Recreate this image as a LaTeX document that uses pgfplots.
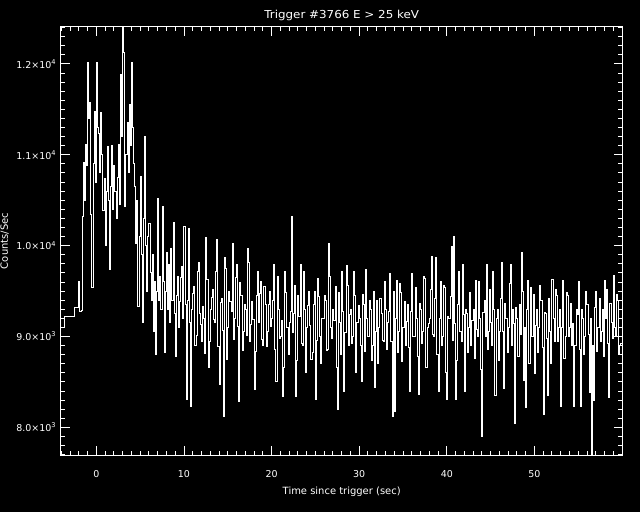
\documentclass[border=0pt]{standalone}
\usepackage{fontspec}
\setmainfont{DejaVu Sans}
\usepackage{graphicx}
\usepackage{pgfplots}
\pgfplotsset{compat=1.18}
\usepackage{pgfplotstable}
\pgfplotstableread{
t c
-4.07 9094
-3.60 9215
-2.55 9318
-2.000 9610
-1.875 9270
-1.750 9290
-1.625 10320
-1.500 10920
-1.375 10500
-1.250 11110
-1.125 10880
-1.000 12010
-0.875 11400
-0.750 11570
-0.625 10340
-0.500 9540
-0.375 10900
-0.250 11480
-0.125 10700
0.000 12010
0.125 11300
0.250 11230
0.375 10800
0.500 11460
0.625 11000
0.750 10390
0.875 10740
1.000 10000
1.125 10600
1.250 11090
1.375 10500
1.500 9740
1.625 10650
1.750 11100
1.875 10400
2.000 10880
2.125 10600
2.250 10300
2.375 10750
2.500 11110
2.625 10450
2.750 11880
2.875 11200
3.000 12450
3.125 12120
3.250 10430
3.375 11000
3.500 11360
3.625 10800
3.750 11550
3.875 11100
4.000 12020
4.125 11300
4.250 10900
4.375 10650
4.500 10020
4.625 10500
4.750 9330
4.875 10100
5.000 10760
5.125 9900
5.250 9150
5.375 10300
5.500 11200
5.625 10000
5.750 9500
5.875 10100
6.000 10240
6.125 9700
6.250 9400
6.375 9900
6.500 9050
6.625 9600
6.750 8800
6.875 9500
7.000 10520
7.125 9400
7.250 9660
7.375 9300
7.500 10430
7.625 9600
7.750 8820
7.875 9500
8.000 9920
8.125 9300
8.250 9790
8.375 9150
8.500 9970
8.625 9400
8.750 10250
8.875 9250
9.000 8780
9.125 9450
9.250 9660
9.375 9100
9.500 9380
9.625 9650
9.750 9770
9.875 9200
10.000 10210
10.125 9350
10.250 8310
10.375 9400
10.500 10190
10.625 9150
10.750 8230
10.875 9300
11.000 9470
11.125 9550
11.250 8900
11.375 9010
11.500 9720
11.625 9810
11.750 9250
11.875 9130
12.000 8950
12.125 9330
12.250 9200
12.375 8810
12.500 10090
12.625 9630
12.750 8660
12.875 8950
13.000 9300
13.125 9430
13.250 9520
13.375 9190
13.500 9150
13.625 9710
13.750 10070
13.875 8890
14.000 8470
14.125 9370
14.250 9420
14.375 9070
14.500 8120
14.625 9870
14.750 9750
14.875 8750
15.000 9100
15.125 9490
15.250 9380
15.375 9270
15.500 10020
15.625 8970
15.750 9200
15.875 9650
16.000 9790
16.125 9110
16.250 8280
16.375 9590
16.500 9450
16.625 8850
16.750 9050
16.875 9350
17.000 9300
17.125 9010
17.250 9970
17.375 9810
17.500 8950
17.625 9130
17.750 9380
17.875 9190
18.000 8420
18.125 8830
18.250 9450
18.375 9710
18.500 9150
18.625 9470
18.750 9600
18.875 8970
19.000 8900
19.125 9550
19.250 9350
19.375 8890
19.500 9050
19.625 9350
19.750 9500
19.875 9110
20.000 9200
20.125 9400
20.250 9790
20.375 8860
20.500 8500
20.625 9660
20.750 9300
20.875 8980
21.000 9000
21.125 9180
21.250 8340
21.375 8660
21.500 9720
21.625 9480
21.750 9100
21.875 8800
22.000 9150
22.125 9280
22.250 10320
22.375 9040
22.500 9250
22.625 9560
22.750 8340
22.875 8740
23.000 9450
23.125 9220
23.250 9790
23.375 8920
23.500 8900
23.625 9720
23.750 9300
23.875 8600
24.000 9100
24.125 9340
24.250 9500
24.375 9120
24.500 8750
24.625 8820
24.750 9350
24.875 9500
25.000 8310
25.125 8960
25.250 9640
25.375 9440
25.500 9000
25.625 8700
25.750 9200
25.875 9200
26.000 9450
26.125 9400
26.250 8850
26.375 8860
26.500 10020
26.625 9660
26.750 9100
26.875 8980
27.000 9300
27.125 9180
27.250 9550
27.375 8660
27.500 8200
27.625 9480
27.750 9150
27.875 8800
28.000 9710
28.125 9280
28.250 8400
28.375 9040
28.500 9780
28.625 9560
28.750 8900
28.875 9240
29.000 9300
29.125 8920
29.250 9000
29.375 9720
29.500 9450
29.625 8600
29.750 9150
29.875 9340
30.000 9200
30.125 8900
30.250 8510
30.375 9460
30.500 9350
30.625 8840
30.750 9740
30.875 9200
31.000 9000
31.125 9400
31.250 9300
31.375 8740
31.500 8900
31.625 9500
31.750 8440
31.875 9060
32.000 9400
32.125 8700
32.250 9100
32.375 9420
32.500 9250
32.625 8960
32.750 8950
32.875 9600
33.000 9300
33.125 8860
33.250 9150
33.375 9280
33.500 9690
33.625 8940
33.750 8120
33.875 9500
34.000 8180
34.125 9200
34.250 9620
34.375 8820
34.500 9050
34.625 9580
34.750 9480
34.875 8720
35.000 9100
35.125 9380
35.250 8900
35.375 9160
35.500 9350
35.625 8880
35.750 8400
35.875 9280
36.000 9690
36.125 9000
36.250 9000
36.375 9540
36.500 9200
36.625 8780
36.750 8360
36.875 9360
37.000 9300
37.125 8920
37.250 9050
37.375 9660
37.500 9640
37.625 8660
37.750 9100
37.875 9140
38.000 9200
38.125 9520
38.250 9880
38.375 9020
38.500 9000
38.625 9420
38.750 9870
38.875 8800
39.000 8390
39.125 9200
39.250 9600
39.375 8900
39.500 9000
39.625 9560
39.750 9540
39.875 8600
40.000 8310
40.125 9220
40.250 9200
40.375 9440
40.500 9990
40.625 8960
40.750 10100
40.875 9140
41.000 8310
41.125 8740
41.250 9350
41.375 9720
41.500 9050
41.625 8940
41.750 9790
41.875 9240
42.000 8400
42.125 9300
42.250 9250
42.375 8820
42.500 9100
42.625 9480
42.750 8900
42.875 9180
43.000 9300
43.125 8760
43.250 9620
43.375 9080
43.500 9000
43.625 9600
43.750 9200
43.875 8640
44.000 7900
44.125 9260
44.250 9400
44.375 9000
44.500 9790
44.625 8860
44.750 9050
44.875 9520
45.000 9150
45.125 8900
45.250 9720
45.375 9300
45.500 8350
45.625 9200
45.750 9300
45.875 8740
46.000 9050
46.125 9420
46.250 9810
46.375 9060
46.500 8430
46.625 9360
46.750 9200
46.875 8820
47.000 9100
47.125 9580
47.250 9790
47.375 8900
47.500 9300
47.625 9140
47.750 8040
47.875 9320
48.000 9200
48.125 8780
48.250 9350
48.375 9020
48.500 9920
48.625 9500
48.750 8520
48.875 9100
49.000 8220
49.125 9300
49.250 9620
49.375 8700
49.500 9540
49.625 9000
49.750 9000
49.875 9460
50.000 8590
50.125 9120
50.250 9300
50.375 8820
50.500 9100
50.625 9560
50.750 9400
50.875 8880
51.000 8140
51.125 9260
51.250 9250
51.375 8980
51.500 8350
51.625 9420
51.750 9050
51.875 8700
52.000 9630
52.125 9200
52.250 8950
52.375 9520
52.500 9450
52.625 8940
52.750 9100
52.875 9300
53.000 8230
53.125 9100
53.250 9620
53.375 8760
53.500 9000
53.625 9480
53.750 9450
53.875 9000
54.000 9100
54.125 9360
54.250 8900
54.375 9140
54.500 8230
54.625 8900
54.750 9300
54.875 9240
55.000 9610
55.125 8860
55.250 8230
55.375 9300
55.500 9200
55.625 8800
55.750 9000
55.875 9500
56.000 9350
56.125 9020
56.250 8380
56.375 9200
56.500 7600
56.625 8900
56.750 8300
56.875 9320
57.000 9490
57.125 8840
57.250 9100
57.375 9420
57.500 8950
57.625 9060
57.750 9300
57.875 8780
58.000 9620
58.125 9200
58.250 9520
58.375 8920
58.500 8330
58.625 9360
58.750 9150
58.875 8980
59.000 9670
59.125 9100
59.250 9000
59.375 9460
59.500 9400
59.625 8800
59.750 8900
59.875 8920
60.000 9010
60.200 9010
}\lc
\begin{document}
\begin{tikzpicture}
\useasboundingbox (0,0) rectangle (640bp,512bp);
\fill[black] (0,0) rectangle (640bp,512bp);
\begin{axis}[
  at={(60.7bp,57bp)}, anchor=south west,
  scale only axis, width=562bp, height=428bp,
  xmin=-4.07, xmax=60.08, ymin=7696, ymax=12406,
  scaled y ticks=false, scaled x ticks=false,
  xtick={0,10,20,30,40,50},
  xticklabels={0,10,20,30,40,50},
  minor xtick={-4,-3,...,60},
  ytick={8000,9000,10000,11000,12000},
  yticklabels={8.0×10\textsuperscript{3},9.0×10\textsuperscript{3},1.0×10\textsuperscript{4},1.1×10\textsuperscript{4},1.2×10\textsuperscript{4}},
  minor ytick={7700,7800,...,12400},
  tick align=inside,
  major tick length=9bp, minor tick length=4.5bp,
  axis line style={white, line width=1bp},
  tick style={white, line width=0.9bp},
  ticklabel style={white, font=\fontsize{9.5}{11}\selectfont},
  xticklabel style={anchor=base, yshift=-22bp},
  yticklabel style={anchor=east, xshift=-1bp},
  every axis title shift=0pt,
  title={\scalebox{1.085}[1]{Trigger \#3766 E > 25 keV}},
  title style={white, font=\fontsize{11}{13}\selectfont, at={(axis description cs:0.5,1)}, anchor=base, yshift=8bp},
  xlabel={Time since trigger (sec)},
  ylabel={Counts/Sec},
  every axis x label/.style={at={(axis description cs:0.5,0)}, anchor=base, yshift=-39bp, white, font=\fontsize{10}{12}\selectfont},
  every axis y label/.style={at={(axis description cs:-0.0996,0.5)}, rotate=90, anchor=center, white, font=\fontsize{10}{12}\selectfont},
]
\addplot[const plot, white, line width=1bp] table[x=t, y=c] {\lc};
\end{axis}
\end{tikzpicture}
\end{document}
